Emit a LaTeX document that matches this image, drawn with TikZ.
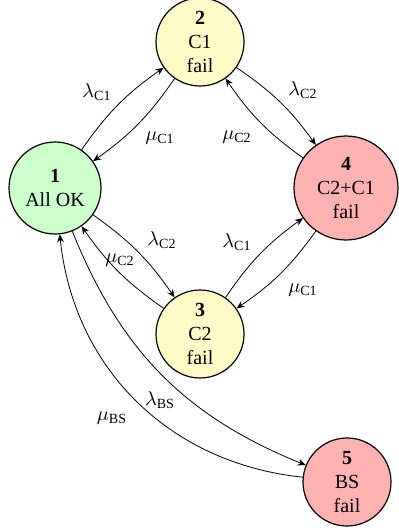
\documentclass[tikz,border=0pt]{standalone}
\usepackage{fontspec}
\setmainfont{Liberation Serif}
\usepackage{amsmath}
\usetikzlibrary{arrows.meta}
\begin{document}
\begin{tikzpicture}[x=0.5pt,y=-0.5pt,
  state/.style={circle,draw,semithick,align=center,inner sep=0pt,font=\normalsize},
  okst/.style={state,fill=green!20},
  warnst/.style={state,fill=yellow!22},
  failst/.style={state,fill=red!30},
  trans/.style={-{Stealth[length=4pt,width=3.4pt]},thin},
  lbl/.style={inner sep=0pt}]
\useasboundingbox (0,0) rectangle (398,531);
\node[okst,minimum size=46pt] (n1) at (55,188) {\textbf{1}\\All OK};
\node[warnst,minimum size=44pt] (n2) at (200,42) {\textbf{2}\\C1\\fail};
\node[warnst,minimum size=44pt] (n3) at (200,334) {\textbf{3}\\C2\\fail};
\node[failst,minimum size=52pt] (n4) at (346,188) {\textbf{4}\\C2+C1\\fail};
\node[failst,minimum size=44pt] (n5) at (347,482) {\textbf{5}\\BS\\fail};

\draw[trans] (n1) to[bend left=10] (n2);
\draw[trans] (n2) to[bend left=10] (n1);
\draw[trans] (n2) to[bend left=10] (n4);
\draw[trans] (n4) to[bend left=10] (n2);
\draw[trans] (n1) to[bend left=10] (n3);
\draw[trans] (n3) to[bend left=10] (n1);
\draw[trans] (n3) to[bend left=10] (n4);
\draw[trans] (n4) to[bend left=10] (n3);
\draw[trans] (n1) to[bend right=23] (n5);
\draw[trans] (n5) to[bend left=39] (n1);

\node[lbl] (l12) at (97,92) {$\lambda_{\textrm{C1}}$};
\node[lbl] (l21) at (160,138) {$\mu_{\textrm{C1}}$};
\node[lbl] (l24) at (303,90) {$\lambda_{\textrm{C2}}$};
\node[lbl] (l42) at (237,137) {$\mu_{\textrm{C2}}$};
\node[lbl] (l13) at (162,240) {$\lambda_{\textrm{C2}}$};
\node[lbl] (l31) at (120,260) {$\mu_{\textrm{C2}}$};
\node[lbl] (l34) at (237,242) {$\lambda_{\textrm{C1}}$};
\node[lbl] (l43) at (303,290) {$\mu_{\textrm{C1}}$};
\node[lbl] (l15) at (160,400) {$\lambda_{\textrm{BS}}$};
\node[lbl] (l51) at (112,418) {$\mu_{\textrm{BS}}$};
\end{tikzpicture}
\end{document}
